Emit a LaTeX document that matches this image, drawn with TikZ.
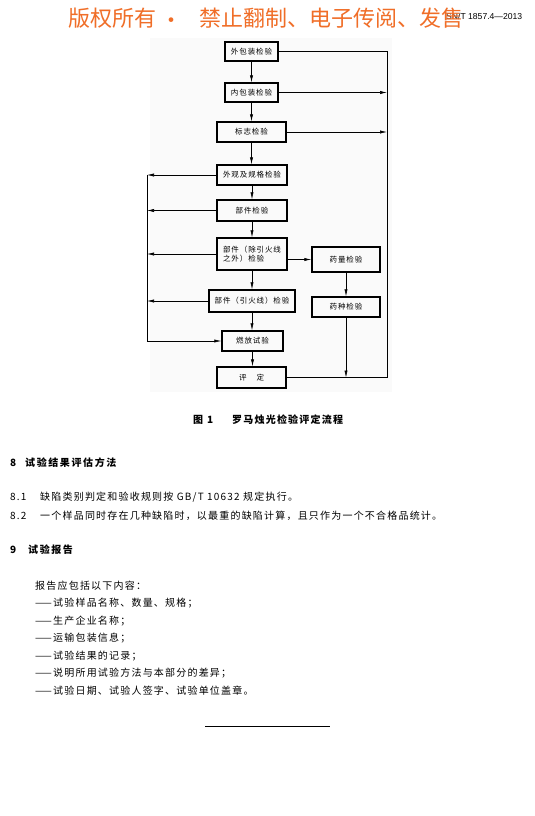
\documentclass[tikz,border=0pt]{standalone}
\usepackage{fontspec}
\setmainfont{Liberation Serif}
\newfontfamily\cjkf{Noto Sans CJK SC}
\newfontfamily\cjkls{Noto Sans CJK SC}[LetterSpace=12]
\newfontfamily\cjkhd{Noto Sans CJK SC}[LetterSpace=16]
\newfontfamily\cjkbx{Noto Sans CJK SC}[LetterSpace=12]
\newfontfamily\hdrsans{Liberation Sans}
\usetikzlibrary{arrows.meta}
\definecolor{wmorange}{RGB}{240,110,40}
\tikzset{
  fbox/.style={draw=black, line width=1.4pt, inner sep=0pt, font=\cjkbx\fontsize{7.5}{9.5}\selectfont, align=center},
  conn/.style={line width=0.6pt},
  arr/.style={conn, -{Latex[length=7pt,width=3.2pt]}},
  txt/.style={anchor=west, inner sep=0pt},
  body/.style={txt, font=\cjkls\fontsize{10}{12}\selectfont},
  head/.style={txt, font=\cjkhd\bfseries\fontsize{10}{12}\selectfont},
  wm/.style={txt, font=\cjkf\fontsize{22}{24}\selectfont, text=wmorange},
}
\begin{document}
\begin{tikzpicture}[x=1pt,y=-1pt]
\useasboundingbox (0,0) rectangle (535,816);
\fill[white] (0,0) rectangle (535,816);
\fill[black!2] (150,38) rectangle (392,392);

% header
\node[txt, font=\hdrsans\fontsize{8.6}{11}\selectfont] (hdr) at (446,16) {SN/T 1857.4—2013};
\node[wm] (wm1) at (68,18) {版权所有};
\node[wm] (wm2) at (160,23) {·};
\node[wm] (wm3) at (199,18) {禁止翻制、电子传阅、发售};

% flowchart boxes
\node[fbox, minimum width=53pt, minimum height=19pt] (a) at (251.5,51.5) {外包装检验};
\node[fbox, minimum width=53pt, minimum height=19pt] (b) at (251.5,92.5) {内包装检验};
\node[fbox, minimum width=69pt, minimum height=20pt] (c) at (251.5,132) {标志检验};
\node[fbox, minimum width=70pt, minimum height=20pt] (d) at (252,175) {外观及规格检验};
\node[fbox, minimum width=70pt, minimum height=21pt] (e) at (252,210.5) {部件检验};
\node[fbox, minimum width=70pt, minimum height=32pt, align=left] (f) at (252,254) {部件（除引火线\\之外）检验};
\node[fbox, minimum width=68pt, minimum height=25pt] (g) at (346,259.5) {药量检验};
\node[fbox, minimum width=86pt, minimum height=22pt] (h) at (252,301) {部件（引火线）检验};
\node[fbox, minimum width=68pt, minimum height=20pt] (i) at (346,307) {药种检验};
\node[fbox, minimum width=61pt, minimum height=20pt] (j) at (252.5,341) {燃放试验};
\node[fbox, minimum width=69pt, minimum height=21pt] (k) at (251.5,377.5) {评\hspace{10pt}定};

\coordinate (R) at (387,0);
\coordinate (L) at (147,0);

% main chain
\draw[arr] (a.south) -- (a.south |- b.north);
\draw[arr] (b.south) -- (b.south |- c.north);
\draw[arr] (c.south) -- (c.south |- d.north);
\draw[arr] (d.south) -- (d.south |- e.north);
\draw[arr] (e.south) -- (e.south |- f.north);
\draw[arr] (f.south) -- (f.south |- h.north);
\draw[arr] (h.south) -- (h.south |- j.north);
\draw[arr] (j.south) -- (j.south |- k.north);
\draw[arr] (f.east |- g.west) -- (g.west);
\draw[arr] (g.south) -- (i.north);

% right loop
\draw[conn] (a.east) -- (a.east -| R) -- (k.east -| R) -- (k.east);
\draw[arr] (b.east) -- (b.east -| R);
\draw[arr] (c.east) -- (c.east -| R);
\draw[arr] (i.south) -- (i.south |- k.east);

% left loop
\draw[arr] (d.west) -- (d.west -| L);
\draw[arr] (e.west) -- (e.west -| L);
\draw[arr] (f.west) -- (f.west -| L);
\draw[arr] (h.west) -- (h.west -| L);
\draw[conn] (d.west -| L) -- (j.west -| L);
\draw[arr] (j.west -| L) -- (j.west);

% caption
\node[txt, font=\cjkls\bfseries\fontsize{10}{12}\selectfont] (capn) at (193,420) {图\hspace{4pt}1};
\node[txt, font=\cjkls\bfseries\fontsize{10}{12}\selectfont] (capt) at (232,420) {罗马烛光检验评定流程};

% section 8
\node[head] (s8n) at (10,463) {8};
\node[head] (s8t) at (25,463) {试验结果评估方法};
\node[body] (p81n) at (10,497) {8.1};
\node[body] (p81) at (40,497) {缺陷类别判定和验收规则按 GB/T 10632 规定执行。};
\node[body] (p82n) at (10,516) {8.2};
\node[body] (p82) at (40,516) {一个样品同时存在几种缺陷时，以最重的缺陷计算，且只作为一个不合格品统计。};

% section 9
\node[head] (s9n) at (10,550) {9};
\node[head] (s9t) at (28,550) {试验报告};
\node[body] (l0) at (35,586) {报告应包括以下内容：};
\node[body] (l1) at (35,603.4) {——试验样品名称、数量、规格；};
\node[body] (l2) at (35,620.8) {——生产企业名称；};
\node[body] (l3) at (35,638.2) {——运输包装信息；};
\node[body] (l4) at (35,655.6) {——试验结果的记录；};
\node[body] (l5) at (35,673) {——说明所用试验方法与本部分的差异；};
\node[body] (l6) at (35,690.4) {——试验日期、试验人签字、试验单位盖章。};

\draw[line width=0.8pt] (205,726) -- (330,726);
\end{tikzpicture}
\end{document}
